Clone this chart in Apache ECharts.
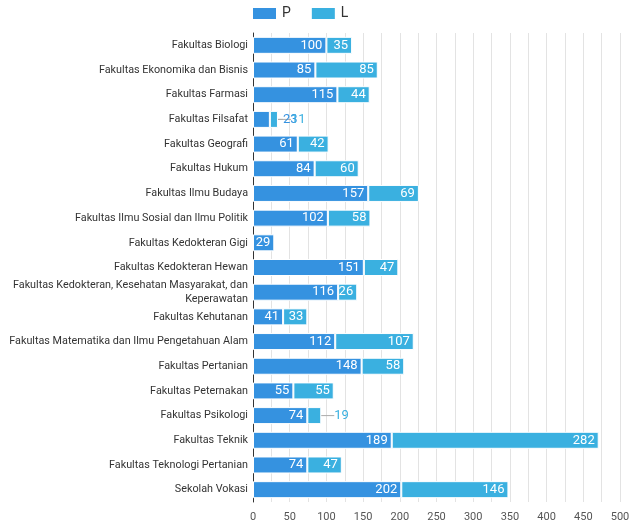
<!DOCTYPE html>
<html><head><meta charset="utf-8">
<script src="https://cdn.jsdelivr.net/npm/echarts@6/dist/echarts.min.js"></script>
<style>html,body{margin:0;padding:0;background:#fff}#c{width:639px;height:523px}</style>
</head><body><div id="c"></div>
<script>
const categories = [
  "Fakultas Biologi",
  "Fakultas Ekonomika dan Bisnis",
  "Fakultas Farmasi",
  "Fakultas Filsafat",
  "Fakultas Geografi",
  "Fakultas Hukum",
  "Fakultas Ilmu Budaya",
  "Fakultas Ilmu Sosial dan Ilmu Politik",
  "Fakultas Kedokteran Gigi",
  "Fakultas Kedokteran Hewan",
  "Fakultas Kedokteran, Kesehatan Masyarakat, dan Keperawatan",
  "Fakultas Kehutanan",
  "Fakultas Matematika dan Ilmu Pengetahuan Alam",
  "Fakultas Pertanian",
  "Fakultas Peternakan",
  "Fakultas Psikologi",
  "Fakultas Teknik",
  "Fakultas Teknologi Pertanian",
  "Sekolah Vokasi"
];
const valuesP = [100, 85, 115, 23, 61, 84, 157, 102, 29, 151, 116, 41, 112, 148, 55, 74, 189, 74, 202];
const valuesL = [35, 85, 44, 11, 42, 60, 69, 58, null, 47, 26, 33, 107, 58, 55, 19, 282, 47, 146];
const xTicks = [0, 50, 100, 150, 200, 250, 300, 350, 400, 450, 500];

const colorP = '#3592e0';
const colorL = '#3ab0e0';
const smallLimit = 25;
const seriesValues = [valuesP, valuesL];

function buildData(vals, color) {
  return vals.map(v => {
    if (v == null) return null;
    if (v < smallLimit) return { value: v, label: { color: color } };
    return v;
  });
}

function layoutFn(params) {
  const v = seriesValues[params.seriesIndex][params.dataIndex];
  if (v != null && v < smallLimit) {
    const x = params.rect.x + params.rect.width;
    const y = params.rect.y + params.rect.height / 2;
    return {
      x: x + 13, y: y, align: 'left', verticalAlign: 'middle',
      labelLinePoints: [[x, y], [x + 12, y]]
    };
  }
  return {};
}

// wrap long category names onto lines of at most maxW pixels
const measureCtx = document.createElement('canvas').getContext('2d');
function wrapLabel(text, maxW, font) {
  measureCtx.font = font;
  const words = text.split(' ');
  const lines = [];
  let cur = '';
  words.forEach(w => {
    const t = cur ? cur + ' ' + w : w;
    if (measureCtx.measureText(t).width > maxW && cur) { lines.push(cur); cur = w; }
    else cur = t;
  });
  if (cur) lines.push(cur);
  return lines.join('\n');
}

const chart = echarts.init(document.getElementById('c'), null, { renderer: 'canvas' });
const labelCommon = {
  show: true, position: 'insideRight', color: '#fff', fontSize: 13,
  fontFamily: 'Roboto', distance: 4
};
chart.setOption({
  animation: false,
  textStyle: { fontFamily: 'Roboto' },
  legend: {
    top: 1, left: 246, icon: 'rect', itemWidth: 25, itemHeight: 13, itemGap: 19,
    textStyle: { fontSize: 14, color: '#333', fontFamily: 'Roboto' },
    data: ['P', 'L']
  },
  grid: { left: 253, right: 19, top: 33, bottom: 21, containLabel: false, outerBoundsMode: 'none' },
  xAxis: {
    type: 'value', min: 0, max: 500, interval: 25,
    axisLine: { show: false }, axisTick: { show: false },
    splitLine: { show: true, lineStyle: { color: '#e3e3e3' } },
    axisLabel: {
      color: '#555', fontSize: 11, margin: 10,
      formatter: v => (xTicks.indexOf(v) >= 0 ? String(v) : '')
    }
  },
  yAxis: {
    type: 'category', inverse: true, data: categories,
    axisLine: { show: true, lineStyle: { color: '#333', width: 1 } },
    axisTick: { show: false },
    axisLabel: {
      color: '#333', fontSize: 10.8, margin: 5, align: 'right',
      lineHeight: 14, interval: 0,
      formatter: v => wrapLabel(v, 244, '10.8px Roboto')
    }
  },
  series: [
    {
      name: 'P', type: 'bar', stack: 'a', barWidth: 17,
      itemStyle: { color: colorP, borderColor: '#fff', borderWidth: 1 },
      label: labelCommon,
      labelLine: { show: true, lineStyle: { color: '#aaa', width: 1 } },
      labelLayout: layoutFn,
      data: buildData(valuesP, colorP)
    },
    {
      name: 'L', type: 'bar', stack: 'a', barWidth: 17,
      itemStyle: { color: colorL, borderColor: '#fff', borderWidth: 1 },
      label: labelCommon,
      labelLine: { show: true, lineStyle: { color: '#aaa', width: 1 } },
      labelLayout: layoutFn,
      data: buildData(valuesL, colorL)
    }
  ]
});
</script></body></html>
